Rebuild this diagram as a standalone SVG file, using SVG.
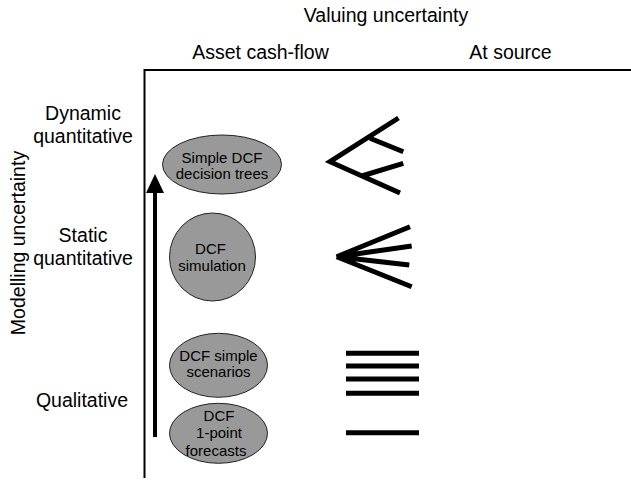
<svg xmlns="http://www.w3.org/2000/svg" width="631" height="481" viewBox="0 0 631 481">
<style>
text{font-family:"Liberation Sans",Arial,sans-serif;fill:#000}
.h{font-size:19.5px;text-anchor:middle}
.n{font-size:15px;text-anchor:middle}
.node ellipse{fill:#999999;stroke:#222;stroke-width:1}
.sym{stroke:#000;stroke-width:5;fill:none;stroke-linecap:butt}
.axis{stroke:#000;stroke-width:2;fill:none}
</style>
<rect width="631" height="481" fill="#fff"/>
<g id="headers">
<text class="h" x="386" y="22">Valuing uncertainty</text>
<text class="h" x="260.5" y="59">Asset cash-flow</text>
<text class="h" x="510.5" y="59">At source</text>
<text class="h" x="83" y="120">Dynamic</text>
<text class="h" x="83" y="142.5">quantitative</text>
<text class="h" x="83" y="242">Static</text>
<text class="h" x="83" y="264.5">quantitative</text>
<text class="h" x="82" y="407">Qualitative</text>
<text class="h" transform="translate(25,243) rotate(-90)" x="0" y="0">Modelling uncertainty</text>
</g>
<g id="axes">
<path class="axis" d="M144.5,478 V70 H631"/>
</g>
<g id="connectors">
<rect x="153" y="192" width="4" height="245" fill="#000"/>
<polygon points="155,174 146,193 164,193" fill="#000"/>
</g>
<g id="node-trees" class="node">
<ellipse cx="222" cy="164.5" rx="59.5" ry="29.5"/>
<text class="n" x="222" y="162.5">Simple DCF</text>
<text class="n" x="222" y="178.5">decision trees</text>
</g>
<g id="node-simulation" class="node">
<ellipse cx="212.5" cy="257" rx="43" ry="44"/>
<text class="n" x="210.5" y="254">DCF</text>
<text class="n" x="212" y="271">simulation</text>
</g>
<g id="node-scenarios" class="node">
<ellipse cx="218.5" cy="365.3" rx="49" ry="32"/>
<text class="n" x="218.5" y="361">DCF simple</text>
<text class="n" x="218.5" y="377.3">scenarios</text>
</g>
<g id="node-forecasts" class="node">
<ellipse cx="218.5" cy="433.3" rx="49" ry="30"/>
<text class="n" x="219" y="420.7">DCF</text>
<text class="n" x="219" y="438.3">1-point</text>
<text class="n" x="216" y="456">forecasts</text>
</g>
<g id="symbol-tree">
<path class="sym" d="M398.5,118 L330,161.7 L400,193 M370,138.3 L403.3,151.7 M361.7,176 L403.3,163.3"/>
</g>
<g id="symbol-fan">
<path class="sym" d="M410,226.7 L336.7,256.7 L411.7,246 M336.7,256.7 L409.3,265 M336.7,256.7 L411.7,286.7"/>
</g>
<g id="symbol-lines">
<path class="sym" d="M346,353.3 H419 M346,366 H419 M346,379 H419 M346,393.3 H419 M346,432.7 H419" stroke-width="4.5"/>
</g>
</svg>
